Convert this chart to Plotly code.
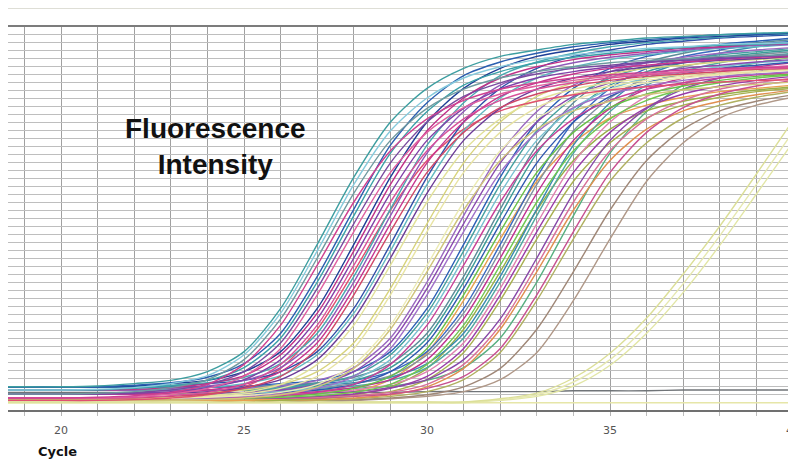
import plotly.graph_objects as go

# Cycle numbers (x) shared by every amplification curve
cycles = [18, 19, 20, 21, 22, 23, 24, 25, 26, 27, 28, 29, 30, 31, 32, 33, 34, 35, 36, 37, 38, 39, 40]
x_tick_values = [20, 25, 30, 35, 40]
x_tick_labels = ["20", "25", "30", "35", "40"]

# ---- early cluster (fluorescence, grid units) ----
a01 = [2.9,2.9,2.9,3.0,3.3,3.7,4.8,7.3,12.7,20.7,29.1,36.0,40.2,42.7,44.2,45.0,45.7,46.1,46.5,46.7,46.9,47.1,47.2]
a02 = [2.5,2.5,2.5,2.6,2.8,3.3,4.3,6.9,12.1,19.9,28.2,34.9,39.0,41.5,42.9,43.8,44.4,44.8,45.2,45.4,45.7,45.8,45.9]
a03 = [2.0,2.0,2.0,2.1,2.3,2.8,3.8,6.3,11.4,19.0,27.1,33.7,37.7,40.1,41.5,42.3,42.9,43.4,43.7,43.9,44.2,44.3,44.4]
a04 = [2.9,2.9,2.9,2.9,3.1,3.4,4.1,5.8,9.6,16.7,25.1,33.1,38.4,41.8,43.5,44.6,45.4,45.9,46.3,46.6,46.9,47.0,47.2]
a05 = [2.5,2.5,2.5,2.5,2.7,3.0,3.7,5.3,9.0,16.0,24.3,32.1,37.3,40.6,42.3,43.4,44.1,44.6,45.0,45.3,45.6,45.7,45.9]
a06 = [2.0,2.0,2.0,2.0,2.2,2.5,3.2,4.8,8.4,15.2,23.3,30.9,36.0,39.2,40.9,42.0,42.7,43.1,43.5,43.8,44.1,44.2,44.4]
a07 = [1.5,1.5,1.5,1.5,1.7,2.0,2.7,4.2,7.7,14.4,22.3,29.7,34.7,37.8,39.5,40.5,41.2,41.7,42.0,42.3,42.6,42.7,42.9]
a08 = [2.5,2.5,2.5,2.5,2.6,2.8,3.3,4.3,6.9,12.1,19.9,28.2,34.9,39.0,41.5,42.9,43.8,44.4,44.8,45.2,45.4,45.7,45.8]
a09 = [2.0,2.0,2.0,2.0,2.1,2.3,2.8,3.8,6.3,11.4,19.0,27.1,33.7,37.7,40.1,41.5,42.3,42.9,43.4,43.7,43.9,44.2,44.3]
a10 = [2.9,2.9,2.9,2.9,3.0,3.3,3.7,4.8,7.3,12.7,20.7,29.1,36.0,40.2,42.7,44.2,45.0,45.7,46.1,46.5,46.7,46.9,47.1]
a11 = [1.5,1.5,1.5,1.5,1.6,1.8,2.2,3.2,5.7,10.6,18.1,26.0,32.4,36.4,38.7,40.1,40.9,41.5,41.9,42.2,42.5,42.7,42.8]
a12 = [2.0,2.0,2.0,2.0,2.0,2.2,2.5,3.2,4.8,8.4,15.2,23.3,30.9,36.0,39.2,40.9,42.0,42.7,43.1,43.5,43.8,44.1,44.2]
a13 = [2.5,2.5,2.5,2.5,2.5,2.7,3.0,3.7,5.3,9.0,16.0,24.3,32.1,37.3,40.6,42.3,43.4,44.1,44.6,45.0,45.3,45.6,45.7]
a14 = [1.5,1.5,1.5,1.5,1.5,1.7,2.0,2.7,4.2,7.7,14.4,22.3,29.7,34.7,37.8,39.5,40.5,41.2,41.7,42.0,42.3,42.6,42.7]
a15 = [2.9,2.9,2.9,2.9,2.9,3.1,3.4,4.1,5.8,9.6,16.7,25.1,33.1,38.4,41.8,43.5,44.6,45.4,45.9,46.3,46.6,46.9,47.0]
a16 = [2.0,2.0,2.0,2.0,2.0,2.1,2.3,2.8,3.8,6.3,11.4,19.0,27.1,33.7,37.7,40.1,41.5,42.3,42.9,43.4,43.7,43.9,44.2]
a17 = [1.5,1.5,1.5,1.6,1.8,2.2,3.2,5.7,10.6,18.1,26.0,32.4,36.4,38.7,40.1,40.9,41.5,41.9,42.2,42.5,42.7,42.8,42.9]
a18 = [2.9,2.9,2.9,2.9,2.9,3.0,3.3,3.7,4.8,7.3,12.7,20.7,29.1,36.0,40.2,42.7,44.2,45.0,45.7,46.1,46.5,46.7,46.9]
a19 = [2.5,2.5,2.5,2.5,2.5,2.6,2.8,3.3,4.3,6.9,12.1,19.9,28.2,34.9,39.0,41.5,42.9,43.8,44.4,44.8,45.2,45.4,45.7]
a20 = [1.2,1.2,1.2,1.2,1.3,1.5,1.9,2.9,5.2,10.1,17.3,25.0,31.2,35.1,37.4,38.6,39.4,40.0,40.4,40.7,41.0,41.2,41.3]

# ---- pale yellow curves just after the early cluster ----
y01 = [1.5,1.5,1.5,1.5,1.5,1.6,1.8,2.2,3.2,5.7,10.6,18.1,26.0,32.4,36.4,38.7,40.1,40.9,41.5,41.9,42.2,42.5,42.7]
y02 = [1.5,1.5,1.5,1.5,1.5,1.5,1.7,2.0,2.7,4.2,7.7,14.4,22.3,29.7,34.7,37.8,39.5,40.5,41.2,41.7,42.0,42.3,42.6]
y03 = [2.0,2.0,2.0,2.0,2.0,2.0,2.2,2.5,3.2,4.8,8.4,15.2,23.3,30.9,36.0,39.2,40.9,42.0,42.7,43.1,43.5,43.8,44.1]
y04 = [1.5,1.5,1.5,1.5,1.5,1.5,1.6,1.8,2.2,3.2,5.7,10.6,18.1,26.0,32.4,36.4,38.7,40.1,40.9,41.5,41.9,42.2,42.5]
y05 = [1.2,1.2,1.2,1.2,1.2,1.2,1.3,1.5,1.9,2.9,5.2,10.1,17.3,25.0,31.2,35.1,37.4,38.6,39.4,40.0,40.4,40.7,41.0]

# ---- purple curves between the clusters ----
p01 = [2.0,2.0,2.0,2.0,2.0,2.0,2.0,2.2,2.5,3.2,4.8,8.4,15.2,23.3,30.9,36.0,39.2,40.9,42.0,42.7,43.1,43.5,43.8]
p02 = [2.5,2.5,2.5,2.5,2.5,2.5,2.5,2.7,3.0,3.7,5.3,9.0,16.0,24.3,32.1,37.3,40.6,42.3,43.4,44.1,44.6,45.0,45.3]
p03 = [1.5,1.5,1.5,1.5,1.5,1.5,1.5,1.7,2.0,2.7,4.2,7.7,14.4,22.3,29.7,34.7,37.8,39.5,40.5,41.2,41.7,42.0,42.3]

# ---- later cluster ----
b01 = [2.5,2.5,2.5,2.5,2.5,2.5,2.5,2.6,2.8,3.3,4.3,6.9,12.1,19.9,28.2,34.9,39.0,41.5,42.9,43.8,44.4,44.8,45.2]
b02 = [2.9,2.9,2.9,2.9,2.9,2.9,2.9,3.0,3.3,3.7,4.8,7.3,12.7,20.7,29.1,36.0,40.2,42.7,44.2,45.0,45.7,46.1,46.5]
b03 = [2.0,2.0,2.0,2.0,2.0,2.0,2.0,2.1,2.3,2.8,3.8,6.3,11.4,19.0,27.1,33.7,37.7,40.1,41.5,42.3,42.9,43.4,43.7]
b04 = [1.5,1.5,1.5,1.5,1.5,1.5,1.5,1.6,1.8,2.2,3.2,5.7,10.6,18.1,26.0,32.4,36.4,38.7,40.1,40.9,41.5,41.9,42.2]
b05 = [2.5,2.5,2.5,2.5,2.5,2.5,2.5,2.5,2.7,3.0,3.7,5.3,9.0,16.0,24.3,32.1,37.3,40.6,42.3,43.4,44.1,44.6,45.0]
b06 = [1.5,1.5,1.5,1.5,1.5,1.5,1.5,1.5,1.7,2.0,2.7,4.2,7.7,14.4,22.3,29.7,34.7,37.8,39.5,40.5,41.2,41.7,42.0]
b07 = [2.0,2.0,2.0,2.0,2.0,2.0,2.0,2.0,2.2,2.5,3.2,4.8,8.4,15.2,23.3,30.9,36.0,39.2,40.9,42.0,42.7,43.1,43.5]
b08 = [2.9,2.9,2.9,2.9,2.9,2.9,2.9,2.9,3.1,3.4,4.1,5.8,9.6,16.7,25.1,33.1,38.4,41.8,43.5,44.6,45.4,45.9,46.3]
b09 = [1.5,1.5,1.5,1.5,1.5,1.5,1.5,1.5,1.6,1.8,2.2,3.2,5.7,10.6,18.1,26.0,32.4,36.4,38.7,40.1,40.9,41.5,41.9]
b10 = [2.0,2.0,2.0,2.0,2.0,2.0,2.0,2.0,2.1,2.3,2.8,3.8,6.3,11.4,19.0,27.1,33.7,37.7,40.1,41.5,42.3,42.9,43.4]
b11 = [2.5,2.5,2.5,2.5,2.5,2.5,2.5,2.5,2.6,2.8,3.3,4.3,6.9,12.1,19.9,28.2,34.9,39.0,41.5,42.9,43.8,44.4,44.8]
b12 = [2.9,2.9,2.9,2.9,2.9,2.9,2.9,2.9,3.0,3.3,3.7,4.8,7.3,12.7,20.7,29.1,36.0,40.2,42.7,44.2,45.0,45.7,46.1]
b13 = [1.5,1.5,1.5,1.5,1.5,1.5,1.5,1.5,1.5,1.7,2.0,2.7,4.2,7.7,14.4,22.3,29.7,34.7,37.8,39.5,40.5,41.2,41.7]
b14 = [1.2,1.2,1.2,1.2,1.2,1.2,1.2,1.2,1.2,1.4,1.7,2.3,3.8,7.2,13.7,21.4,28.6,33.4,36.5,38.1,39.1,39.8,40.2]
b15 = [2.0,2.0,2.0,2.0,2.0,2.0,2.0,2.0,2.0,2.2,2.5,3.2,4.8,8.4,15.2,23.3,30.9,36.0,39.2,40.9,42.0,42.7,43.1]
b16 = [2.5,2.5,2.5,2.5,2.5,2.5,2.5,2.5,2.5,2.7,3.0,3.7,5.3,9.0,16.0,24.3,32.1,37.3,40.6,42.3,43.4,44.1,44.6]
b17 = [1.5,1.5,1.5,1.5,1.5,1.5,1.5,1.5,1.5,1.6,1.8,2.2,3.2,5.7,10.6,18.1,26.0,32.4,36.4,38.7,40.1,40.9,41.5]
b18 = [1.2,1.2,1.2,1.2,1.2,1.2,1.2,1.2,1.2,1.3,1.5,1.9,2.9,5.2,10.1,17.3,25.0,31.2,35.1,37.4,38.6,39.4,40.0]
b19 = [1.5,1.5,1.5,1.5,1.5,1.5,1.5,1.5,1.5,1.5,1.7,2.0,2.7,4.2,7.7,14.4,22.3,29.7,34.7,37.8,39.5,40.5,41.2]
b20 = [1.2,1.2,1.2,1.2,1.2,1.2,1.2,1.2,1.2,1.2,1.4,1.7,2.3,3.8,7.2,13.7,21.4,28.6,33.4,36.5,38.1,39.1,39.8]
b21 = [1.2,1.2,1.2,1.2,1.2,1.2,1.2,1.2,1.4,1.7,2.3,3.8,7.2,13.7,21.4,28.6,33.4,36.5,38.1,39.1,39.8,40.2,40.6]
b22 = [2.9,2.9,2.9,2.9,2.9,2.9,2.9,2.9,2.9,3.1,3.4,4.1,5.8,9.6,16.7,25.1,33.1,38.4,41.8,43.5,44.6,45.4,45.9]
b23 = [2.0,2.0,2.0,2.0,2.0,2.0,2.0,2.0,2.0,2.1,2.3,2.8,3.8,6.3,11.4,19.0,27.1,33.7,37.7,40.1,41.5,42.3,42.9]
b24 = [1.2,1.2,1.2,1.2,1.2,1.2,1.2,1.2,1.3,1.5,1.9,2.9,5.2,10.1,17.3,25.0,31.2,35.1,37.4,38.6,39.4,40.0,40.4]
b25 = [2.5,2.5,2.5,2.5,2.5,2.5,2.5,2.5,2.5,2.5,2.7,3.0,3.7,5.3,9.0,16.0,24.3,32.1,37.3,40.6,42.3,43.4,44.1]

# ---- two tan curves ----
t01 = [1.2,1.2,1.2,1.2,1.2,1.2,1.2,1.2,1.2,1.2,1.3,1.5,1.9,2.9,5.2,10.1,17.3,25.0,31.2,35.1,37.4,38.6,39.4]
t02 = [1.2,1.2,1.2,1.2,1.2,1.2,1.2,1.2,1.2,1.2,1.2,1.4,1.7,2.3,3.8,7.2,13.7,21.4,28.6,33.4,36.5,38.1,39.1]

# ---- late pale-yellow curves ----
l01 = [1.0,1.0,1.0,1.0,1.0,1.0,1.0,1.0,1.0,1.0,1.0,1.0,1.0,1.0,1.4,2.1,4.0,7.1,11.5,17.0,23.0,29.5,36.2]
l02 = [0.9,0.9,0.9,0.9,0.9,0.9,0.9,0.9,0.9,0.9,0.9,0.9,0.9,0.9,1.2,1.7,3.0,5.6,9.6,14.7,20.6,27.0,33.5]
l03 = [1.0,1.0,1.0,1.0,1.0,1.0,1.0,1.0,1.0,1.0,1.0,1.0,1.0,1.0,1.3,1.9,3.5,6.3,10.5,15.8,21.8,28.2,34.8]

# ---- flat (no amplification) ----
n01 = [2.2,2.2,2.2,2.2,2.2,2.2,2.2,2.2,2.2,2.2,2.2,2.2,2.3,2.3,2.3,2.3,2.4,2.4,2.4,2.5,2.5,2.5,2.5]
n02 = [0.9,0.9,0.9,0.9,0.9,0.9,0.9,0.9,0.9,0.9,0.9,0.9,0.9,0.9,0.9,0.9,0.9,0.9,0.9,0.9,0.9,0.9,0.9]

curves = [n02, n01, l02, l03, l01, t02, t01,
          b25, b20, b18, b14, b24, b21, b19, b17, b13, b23, b22, b15, b16, b09, b10, b11, b12,
          b05, b06, b07, b08, b01, b02, b03, b04, p03, p01, p02,
          y05, y04, y03, y02, y01,
          a20, a18, a19, a16, a14, a13, a15, a12, a11, a09, a10, a08, a07, a06, a05, a04, a17, a03, a02, a01]
colors = ["#e6e6a8", "#707478", "#e2e6a6", "#e6e8b0", "#dcdf98", "#b09888", "#a08878",
          "#58b080", "#b0b060", "#e09050", "#a8b050", "#98b048", "#e8a050", "#c85090", "#d87098", "#9a3ca8", "#8848a8", "#3a8ab0", "#e080b0", "#50a8a0", "#70c850", "#c03090", "#8090a0", "#3a6ac0",
          "#3c9c98", "#68c048", "#3058b0", "#5c8c98", "#45a0a0", "#2a5fb5", "#78c0d0", "#c84098", "#a070c8", "#8a4ab0", "#9a68c0",
          "#cfc47a", "#ecebb4", "#d8d47c", "#e8e4a4", "#e2e29a",
          "#e05070", "#3050a8", "#60b8c0", "#6c3c98", "#d04868", "#9058b8", "#48a8b0", "#c8358e", "#d8509a", "#8040a8", "#1d3e96", "#c03088", "#e060a0", "#7a4aa0", "#3aa0a8", "#2b5fb0", "#d04090", "#6f9aa0", "#86cadc", "#3d9ea0"]

fig = go.Figure()
for vals, col in zip(curves, colors):
    fig.add_trace(go.Scatter(
        x=cycles, y=vals, mode="lines",
        line=dict(color=col, width=1.4, shape="spline", smoothing=0.8),
        showlegend=False, hoverinfo="skip"))

# The page places the figure 8 px in from the window's top-left corner,
# so the figure is 788x452 and the plot area spans window x 8..796, y 26..410.
fig.update_layout(
    width=788, height=452,
    margin=dict(l=0, r=0, t=18, b=50, autoexpand=False),
    paper_bgcolor="white", plot_bgcolor="white",
    xaxis=dict(
        range=[18.55, 40.08], automargin=False,
        tickmode="array", tickvals=x_tick_values, ticktext=x_tick_labels,
        ticklabeloverflow="allow",
        showgrid=True, gridcolor="#a0a0a0", gridwidth=1,
        ticks="outside", ticklen=4, tickcolor="#b4b4b4",
        tickfont=dict(family="DejaVu Sans", size=11, color="#555555"),
        ticklabelstandoff=5,
        showline=True, linecolor="#707070", linewidth=2,
        zeroline=False,
        minor=dict(dtick=1, tick0=19, showgrid=True, gridcolor="#a0a0a0",
                   ticks="outside", ticklen=4, tickcolor="#bcbcbc"),
    ),
    yaxis=dict(
        range=[0, 48], dtick=1, tick0=0, automargin=False,
        showgrid=True, gridcolor="#bebebe", gridwidth=1,
        showticklabels=False, ticks="", zeroline=False, showline=False,
    ),
    shapes=[
        dict(type="line", xref="paper", yref="paper", x0=0, x1=1, y0=1, y1=1,
             line=dict(color="#7c7c7c", width=2)),
        dict(type="line", xref="paper", yref="paper", x0=0, x1=1,
             y0=(410 - 8.5) / 384, y1=(410 - 8.5) / 384,
             line=dict(color="#deded6", width=1)),
    ],
    annotations=[
        dict(text="<b>Fluorescence<br>Intensity</b>", xref="paper", yref="paper",
             x=(215 - 8) / 788, y=(410 - 146) / 384, xanchor="center", yanchor="middle",
             showarrow=False, align="center",
             font=dict(family="Liberation Sans, Arial", size=28, color="#111111")),
        dict(text="<b>Cycle</b>", xref="paper", yref="paper",
             x=(57 - 8) / 788, y=(410 - 451) / 384, xanchor="center", yanchor="middle",
             showarrow=False,
             font=dict(family="DejaVu Sans", size=13, color="#111111")),
    ],
)

fig.write_html("out.html")
